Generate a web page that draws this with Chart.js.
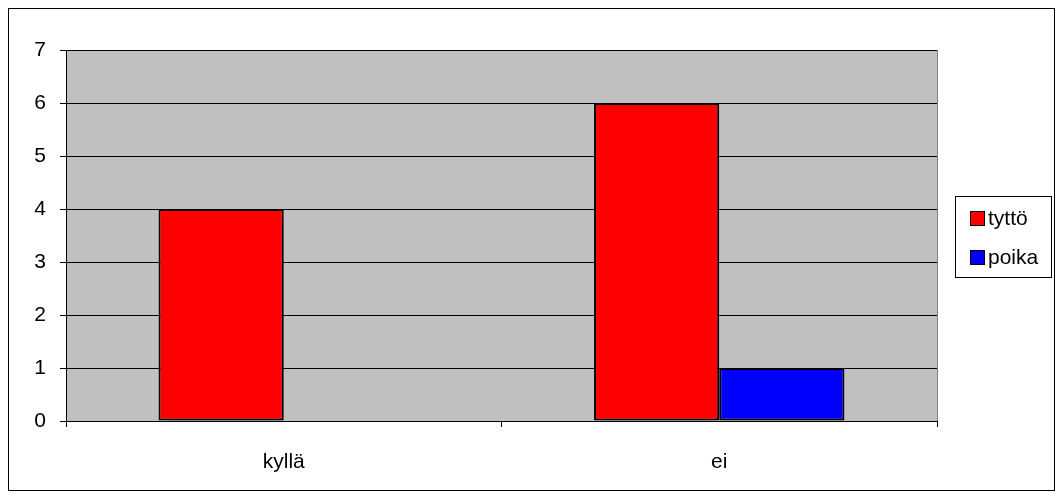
<!DOCTYPE html>
<html>
<head>
<meta charset="utf-8">
<script src="https://cdn.jsdelivr.net/npm/chart.js@4/dist/chart.umd.min.js"></script>
<style>
  html, body { margin: 0; padding: 0; background: #fff; }
  #wrap { width: 1063px; height: 498px; }
</style>
</head>
<body>
<div id="wrap"><canvas id="chart" width="1063" height="498"></canvas></div>
<script>
// data
const categories = ['kyllä', 'ei'];
const seriesNames = ['tyttö', 'poika'];
const tyttoValues = [4, 6];
const poikaValues = [0, 1];
const seriesColors = ['#FF0000', '#0000FF'];
const yTicks = [0, 1, 2, 3, 4, 5, 6, 7];

const FONT = '"Liberation Sans", Arial, sans-serif';

// outer frame + gray plot area
const backgroundPlugin = {
    id: 'excelBackground',
    beforeDraw(chart) {
        const ctx = chart.ctx;
        const a = chart.chartArea;
        ctx.save();
        ctx.fillStyle = '#fff';
        ctx.fillRect(0, 0, chart.width, chart.height);
        ctx.strokeStyle = '#000';
        ctx.lineWidth = 1;
        ctx.strokeRect(8.5, 8.5, 1046, 482);
        ctx.fillStyle = '#C0C0C0';
        ctx.fillRect(a.left, a.top, a.right - a.left, a.bottom - a.top);
        ctx.strokeStyle = '#808080';
        ctx.strokeRect(a.left + 0.5, a.top + 0.5, a.right - a.left, a.bottom - a.top);
        ctx.restore();
    }
};

// legend box on the right
const legendPlugin = {
    id: 'boxLegend',
    afterDraw(chart) {
        const ctx = chart.ctx;
        ctx.save();
        ctx.fillStyle = '#fff';
        ctx.fillRect(955, 196, 96, 81);
        ctx.strokeStyle = '#000';
        ctx.lineWidth = 1;
        ctx.strokeRect(955.5, 196.5, 96, 81);
        ctx.font = '21px ' + FONT;
        ctx.textBaseline = 'middle';
        chart.data.datasets.forEach((ds, i) => {
            const y = 218 + i * 39;
            ctx.fillStyle = ds.backgroundColor;
            ctx.fillRect(970, y - 7, 14, 14);
            ctx.strokeStyle = '#000';
            ctx.strokeRect(970.5, y - 6.5, 14, 14);
            ctx.fillStyle = '#000';
            ctx.fillText(ds.label, 988, y + 1);
        });
        ctx.restore();
    }
};

new Chart(document.getElementById('chart'), {
    type: 'bar',
    data: {
        labels: categories,
        datasets: [
            {
                label: seriesNames[0],
                data: tyttoValues,
                backgroundColor: seriesColors[0],
                borderColor: '#000',
                borderWidth: 2,
                borderSkipped: false
            },
            {
                label: seriesNames[1],
                data: poikaValues,
                backgroundColor: seriesColors[1],
                borderColor: '#000',
                borderWidth: 2,
                borderSkipped: false
            }
        ]
    },
    options: {
        responsive: false,
        animation: false,
        layout: { padding: { left: 0, top: 50, right: 126, bottom: 0 } },
        datasets: { bar: { categoryPercentage: 0.575, barPercentage: 1.0 } },
        plugins: {
            legend: { display: false },
            tooltip: { enabled: false }
        },
        scales: {
            x: {
                afterFit: s => { s.height = 77; },
                grid: {
                    offset: true,
                    drawOnChartArea: false,
                    drawTicks: true,
                    tickLength: 6,
                    color: '#000'
                },
                border: { color: '#000', width: 1 },
                ticks: {
                    color: '#000',
                    font: { family: FONT, size: 21 },
                    padding: 23
                }
            },
            y: {
                min: 0,
                max: 7,
                afterFit: s => { s.width = 66; },
                afterBuildTicks: s => { s.ticks = yTicks.map(v => ({ value: v })); },
                grid: {
                    color: '#000',
                    lineWidth: 1,
                    drawTicks: true,
                    tickLength: 6
                },
                border: { color: '#000', width: 1 },
                ticks: {
                    color: '#000',
                    font: { family: FONT, size: 21 },
                    padding: 14
                }
            }
        }
    },
    plugins: [backgroundPlugin, legendPlugin]
});
</script>
</body>
</html>
